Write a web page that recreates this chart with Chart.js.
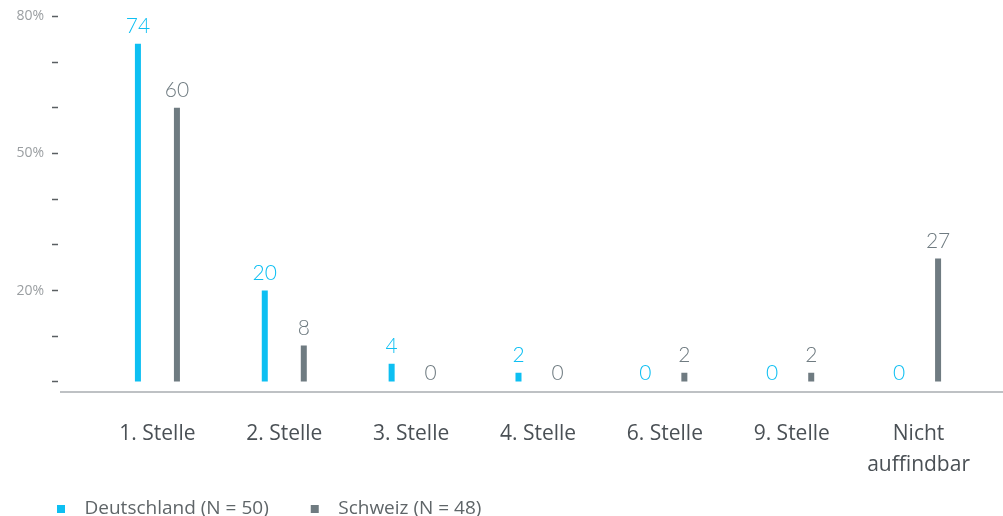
<!DOCTYPE html>
<html>
<head>
<meta charset="utf-8">
<script src="https://cdn.jsdelivr.net/npm/chart.js@4.4.1/dist/chart.umd.min.js"></script>
<style>
  html, body { margin: 0; padding: 0; background: #fff; }
  #wrap { width: 1003px; height: 516px; position: relative; }
</style>
</head>
<body>
<div id="wrap"><canvas id="grafico"></canvas></div>
<script>
const kategorien = ['1. Stelle', '2. Stelle', '3. Stelle', '4. Stelle', '6. Stelle', '9. Stelle', ['Nicht', 'auffindbar']];
const deutschland = [74, 20, 4, 2, 0, 0, 0];
const schweiz = [60, 8, 0, 0, 2, 2, 27];
const yTicks = [0, 10, 20, 30, 40, 50, 60, 70, 80];
const yBeschriftet = [20, 50, 80];

const blau = '#0dbff2';
const grau = '#6f7b81';

// kleines Quadrat mit Abstand davor als Legendensymbol
function marker(farbe) {
    const c = document.createElement('canvas');
    c.width = 44;
    c.height = 8;
    const g = c.getContext('2d');
    g.fillStyle = farbe;
    g.fillRect(26, 0, 8, 8);
    return c;
}
const legendenSymbole = [marker(blau), marker(grau)];

// Werte über den Balken
const werteLabels = {
    id: 'werteLabels',
    afterDatasetsDraw(chart) {
        const ctx = chart.ctx;
        ctx.save();
        ctx.font = '300 21px Lato, sans-serif';
        ctx.textAlign = 'center';
        ctx.textBaseline = 'bottom';
        chart.data.datasets.forEach((ds, i) => {
            const meta = chart.getDatasetMeta(i);
            meta.data.forEach((bar, j) => {
                const v = ds.data[j];
                ctx.fillStyle = ds.backgroundColor;
                ctx.fillText(String(v), bar.x, bar.y - (v > 0 ? 7 : -2));
            });
        });
        ctx.restore();
    }
};

// Grundlinie, etwas breiter als der Plotbereich
const grundlinie = {
    id: 'grundlinie',
    afterDraw(chart) {
        const ctx = chart.ctx;
        const a = chart.chartArea;
        ctx.save();
        ctx.strokeStyle = '#a9adb0';
        ctx.lineWidth = 1.5;
        ctx.beginPath();
        ctx.moveTo(a.left - 34, a.bottom);
        ctx.lineTo(chart.width, a.bottom);
        ctx.stroke();
        ctx.restore();
    }
};

new Chart(document.getElementById('grafico'), {
    type: 'bar',
    data: {
        labels: kategorien,
        datasets: [
            {
                label: 'Deutschland (N = 50)',
                data: deutschland,
                backgroundColor: blau,
                borderWidth: 0
            },
            {
                label: 'Schweiz (N = 48)',
                data: schweiz,
                backgroundColor: grau,
                borderWidth: 0
            }
        ]
    },
    options: {
        responsive: true,
        maintainAspectRatio: false,
        animation: false,
        categoryPercentage: 0.615,
        barPercentage: 0.154,
        layout: {
            padding: { left: 15, right: 21, top: 8, bottom: -12 }
        },
        plugins: {
            tooltip: { enabled: false },
            legend: {
                display: true,
                position: 'bottom',
                align: 'start',
                labels: {
                    usePointStyle: true,
                    pointStyleWidth: 44,
                    boxHeight: 8,
                    padding: 16,
                    color: '#5f6568',
                    font: { family: '"Open Sans", sans-serif', size: 19 },
                    generateLabels(chart) {
                        const items = Chart.defaults.plugins.legend.labels.generateLabels(chart);
                        return items.map((it, i) => Object.assign(it, { pointStyle: legendenSymbole[i] }));
                    }
                }
            }
        },
        scales: {
            x: {
                border: { display: false },
                grid: { display: false, drawTicks: false },
                afterFit(scale) { scale.height = scale.height - 24; },
                ticks: {
                    padding: 26,
                    color: '#4a5055',
                    maxRotation: 0,
                    font: { family: '"Open Sans", sans-serif', size: 21, lineHeight: 1.5 }
                }
            },
            y: {
                min: -2.2,
                max: 80,
                border: { display: false },
                afterFit(scale) { scale.width = 79; },
                afterBuildTicks(scale) {
                    scale.ticks = yTicks.map(v => ({ value: v }));
                },
                grid: {
                    drawOnChartArea: false,
                    tickLength: 42,
                    tickColor: '#5a5f62',
                    tickWidth: 1.5,
                    tickBorderDash: [6, 200]
                },
                ticks: {
                    padding: 8,
                    color: '#9a9ea1',
                    font: { family: '"Open Sans", sans-serif', size: 14 },
                    callback: v => yBeschriftet.includes(v) ? v + '%' : ''
                }
            }
        }
    },
    plugins: [werteLabels, grundlinie]
});
</script>
</body>
</html>
